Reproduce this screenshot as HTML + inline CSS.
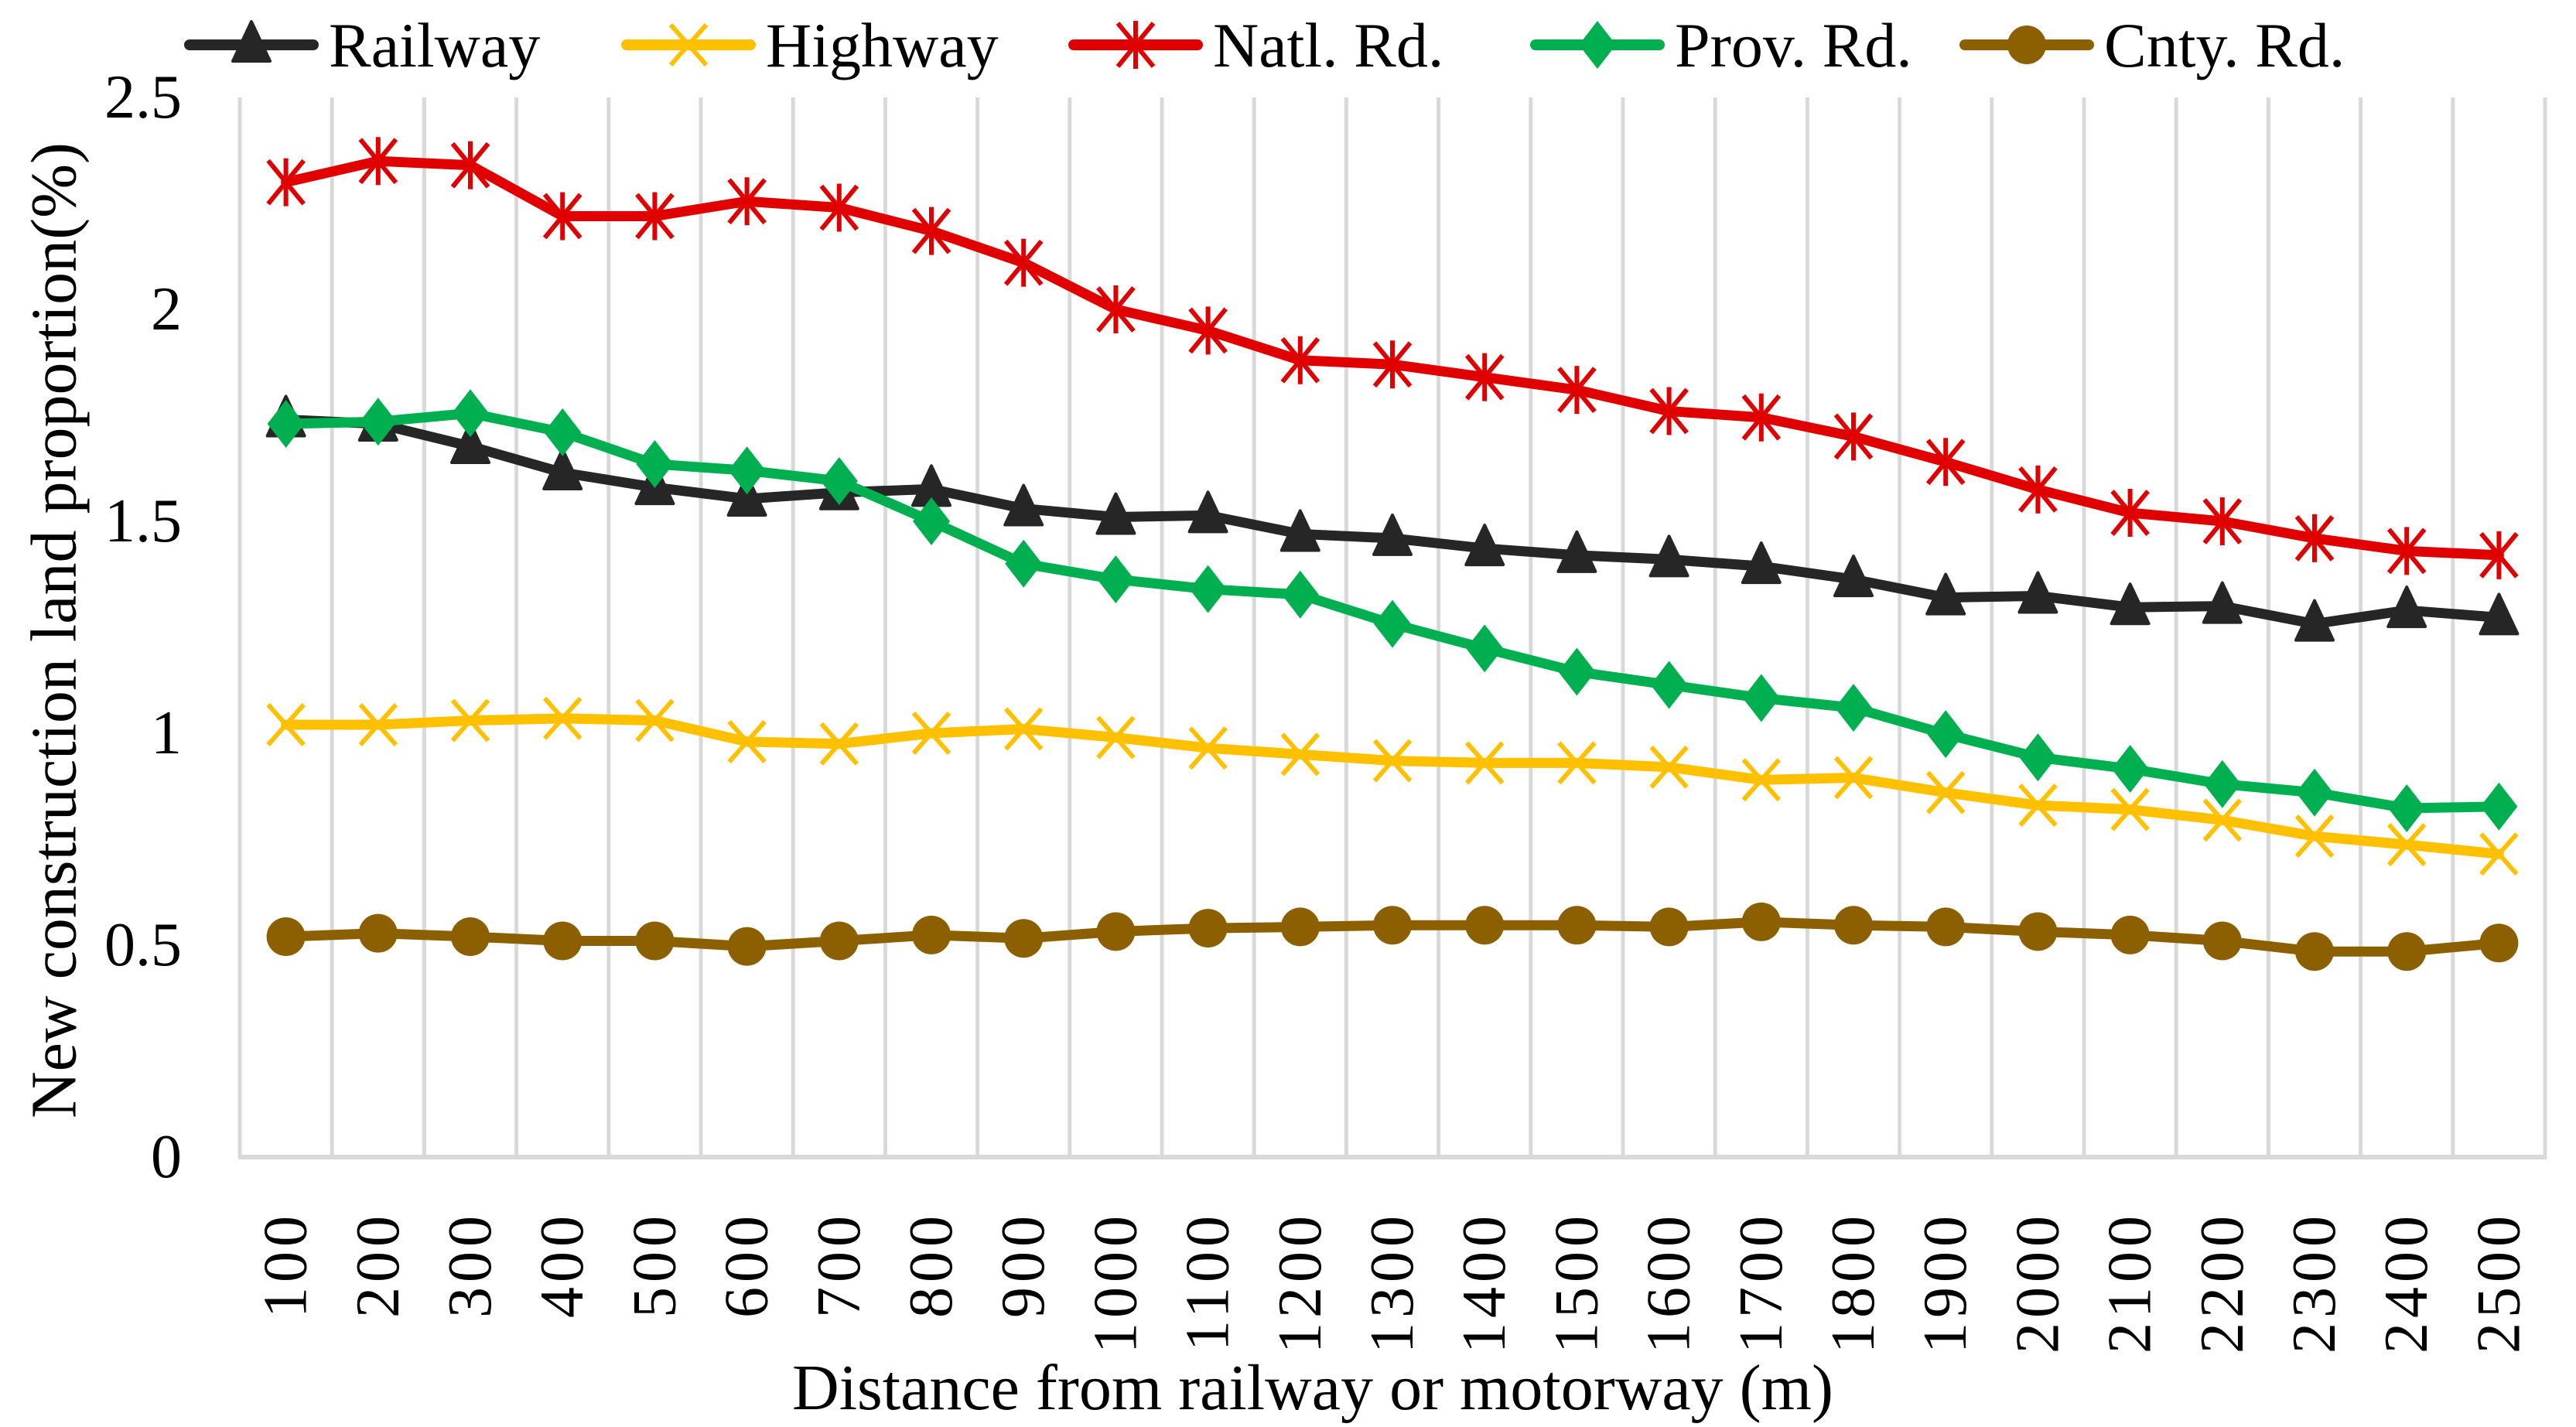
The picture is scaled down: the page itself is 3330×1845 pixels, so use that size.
<!DOCTYPE html>
<html><head><meta charset="utf-8"><style>
html,body{margin:0;padding:0;background:#fff;}
svg{display:block;font-family:"Liberation Serif",serif;}
</style></head><body>
<svg id="chart" width="3330" height="1845" viewBox="0 0 3330 1845" xmlns="http://www.w3.org/2000/svg">
<g id="grid"></g>
<g id="yticks"></g>
<g id="xticks"></g>
<g id="series"></g>
<g id="legend"></g>
<text x="0" y="0" font-size="84" text-anchor="middle" transform="translate(70,815) rotate(-90)" dominant-baseline="central">New construction land proportion(%)</text>
<text x="1697" y="1822" font-size="84" text-anchor="middle">Distance from railway or motorway (m)</text>
</svg>
<script>
const categories = [100,200,300,400,500,600,700,800,900,1000,1100,1200,1300,1400,1500,1600,1700,1800,1900,2000,2100,2200,2300,2400,2500];
const yTicks = [0,0.5,1,1.5,2,2.5];
const yTickLabels = ["0","0.5","1","1.5","2","2.5"];
const seriesNames = ["Railway","Highway","Natl. Rd.","Prov. Rd.","Cnty. Rd."];
const railway = [1.74,1.73,1.677,1.615,1.58,1.553,1.568,1.576,1.53,1.51,1.514,1.47,1.46,1.436,1.42,1.41,1.394,1.363,1.32,1.324,1.297,1.30,1.258,1.29,1.273];
const highway = [1.02,1.02,1.03,1.035,1.03,0.98,0.975,1.0,1.01,0.99,0.965,0.95,0.935,0.93,0.93,0.92,0.89,0.895,0.86,0.83,0.82,0.795,0.757,0.737,0.715];
const natl = [2.30,2.35,2.34,2.22,2.22,2.255,2.24,2.185,2.11,2.0,1.95,1.88,1.87,1.84,1.81,1.76,1.745,1.70,1.64,1.575,1.52,1.50,1.46,1.43,1.42];
const prov = [1.73,1.735,1.755,1.71,1.635,1.62,1.595,1.50,1.40,1.363,1.34,1.327,1.258,1.20,1.145,1.114,1.083,1.06,0.998,0.943,0.916,0.88,0.86,0.823,0.827];
const cnty = [0.52,0.528,0.52,0.51,0.51,0.497,0.51,0.524,0.516,0.532,0.54,0.543,0.547,0.547,0.547,0.543,0.555,0.547,0.543,0.532,0.524,0.51,0.485,0.485,0.505];

const NS="http://www.w3.org/2000/svg";
const L=310,R=3290,T=126,B=1496,YMAX=2.5;
const bw=(R-L)/categories.length;
function xs(i){return L+bw*(i+0.5);}
function ys(v){return B-(v/YMAX)*(B-T);}
function mk(tag,attrs,parent){const e=document.createElementNS(NS,tag);for(const k in attrs)e.setAttribute(k,attrs[k]);parent.appendChild(e);return e;}

const grid=document.getElementById('grid');
for(let i=0;i<=categories.length;i++){
  const x=L+bw*i;
  const g=mk('line',{x1:x,x2:x,y1:T,y2:B,stroke:'#D9D9D9','stroke-width':5},grid);
  
  
}
const ax=mk('line',{x1:L-2,x2:R+2,y1:B,y2:B,stroke:'#D9D9D9','stroke-width':6},grid);



const yt=document.getElementById('yticks');
yTicks.forEach((v,i)=>{
  const t=mk('text',{x:235,y:ys(v),'font-size':80,'text-anchor':'end','dominant-baseline':'central'},yt);
  t.textContent=yTickLabels[i];
  
  
});
const xt=document.getElementById('xticks');
categories.forEach((c,i)=>{
  const x=xs(i);
  const t=mk('text',{x:0,y:0,'font-size':80,'text-anchor':'end','dominant-baseline':'central','letter-spacing':'6',transform:`translate(${x},1566) rotate(-90)`},xt);
  t.textContent=String(c);
  
  
});

function marker(type,x,y,color,parent){
  let e;
  if(type==='tri'){e=mk('path',{d:`M${x},${y-30}L${x+24},${y+21}L${x-24},${y+21}Z`,fill:color,stroke:color,'stroke-width':4,'stroke-linejoin':'round'},parent);}
  else if(type==='x'){e=mk('path',{d:`M${x-23},${y-26}L${x+23},${y+26}M${x-23},${y+26}L${x+23},${y-26}`,stroke:color,'stroke-width':6,fill:'none'},parent);}
  else if(type==='star'){e=mk('path',{d:`M${x-23},${y-28}L${x+23},${y+28}M${x-23},${y+28}L${x+23},${y-28}M${x},${y-31}L${x},${y+31}`,stroke:color,'stroke-width':6,fill:'none'},parent);}
  else if(type==='dia'){e=mk('path',{d:`M${x},${y-31}L${x+24},${y}L${x},${y+31}L${x-24},${y}Z`,fill:color},parent);}
  else {e=mk('ellipse',{cx:x,cy:y,rx:25,ry:25,fill:color},parent);}
  return e;
}
const defs=[
 {name:'railway',data:railway,color:'#262626',m:'tri'},
 {name:'highway',data:highway,color:'#FFC000',m:'x'},
 {name:'natl-rd',data:natl,color:'#E00000',m:'star'},
 {name:'prov-rd',data:prov,color:'#00B050',m:'dia'},
 {name:'cnty-rd',data:cnty,color:'#8C6000',m:'circ'}
];
const sg=document.getElementById('series');
const order=[1,4,0,3,2];
order.forEach(k=>{
  const s=defs[k];
  const g=mk('g',{},sg);
  
  
  const pts=s.data.map((v,i)=>xs(i)+','+ys(v)).join(' ');
  const pl=mk('polyline',{points:pts,fill:'none',stroke:s.color,'stroke-width':13,'stroke-linejoin':'round','stroke-linecap':'round'},g);
  
  
  s.data.forEach((v,i)=>{
    const m=marker(s.m,xs(i),ys(v),s.color,g);
    
    
  });
});

const lg=document.getElementById('legend');
const lx=[245,810,1388,1985,2540];
defs.forEach((s,i)=>{
  const g=mk('g',{},lg);
  
  
  const y=58;
  mk('line',{x1:lx[i],x2:lx[i]+160,y1:y,y2:y,stroke:s.color,'stroke-width':14,'stroke-linecap':'round'},g);
  marker(s.m,lx[i]+80,y,s.color,g);
  const t=mk('text',{x:lx[i]+180,y:y+28,'font-size':82},g);
  t.textContent=seriesNames[i];
});
</script>
</body></html>
